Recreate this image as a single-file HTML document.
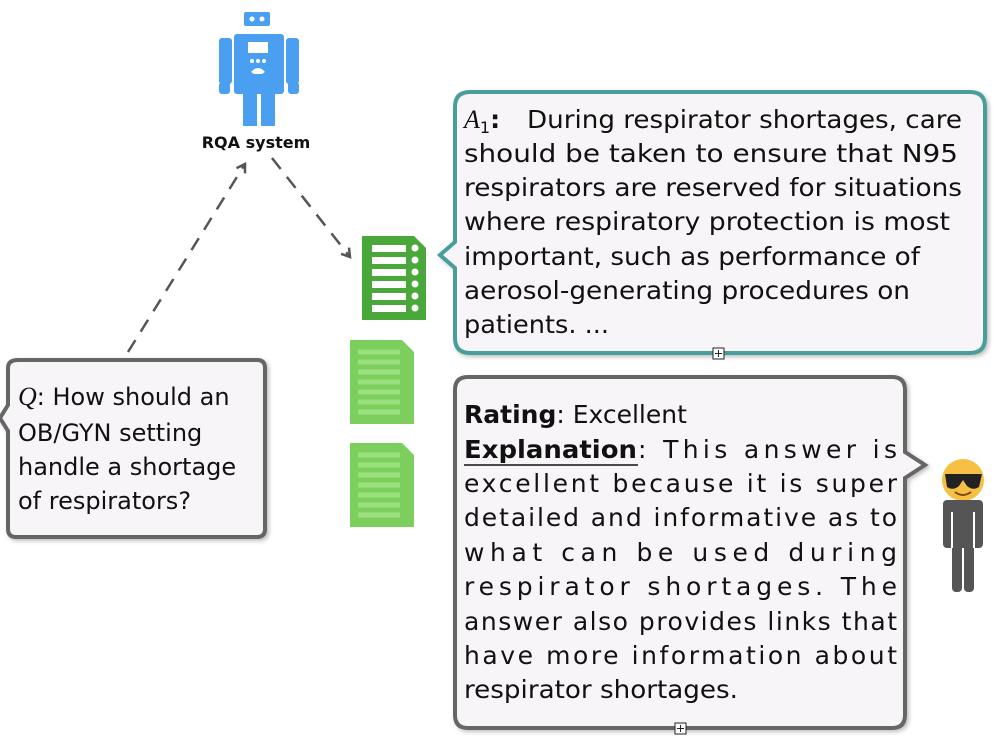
<!DOCTYPE html>
<html><head><meta charset="utf-8"><style>
html,body{margin:0;padding:0;background:#fff;width:1003px;height:752px;overflow:hidden}
svg{display:block}
text{font-family:"DejaVu Sans","Liberation Sans",sans-serif;fill:#111}
</style></head><body>
<svg width="1003" height="752" viewBox="0 0 1003 752">
<defs>
<filter id="sh" x="-5%" y="-5%" width="110%" height="110%"><feDropShadow dx="2" dy="2" stdDeviation="2" flood-color="#000" flood-opacity="0.25"/></filter>
<marker id="ah" markerWidth="12" markerHeight="12" refX="9" refY="6" orient="auto" markerUnits="userSpaceOnUse"><path d="M1,1 L9,6 L1,11" fill="none" stroke="#555" stroke-width="2.5"/></marker>
<g id="doc"><path d="M0,0 H52 L64,12 V84 H0 Z"/></g>
</defs>
<!-- robot -->
<g fill="#4a9ff0">
<rect x="244" y="12" width="26" height="14" rx="2"/>
<rect x="234" y="34" width="50" height="60" rx="3"/>
<rect x="219" y="38" width="13" height="46" rx="3"/>
<rect x="286" y="38" width="13" height="46" rx="3"/>
<rect x="219" y="82" width="11" height="12" rx="3"/>
<rect x="288" y="82" width="11" height="12" rx="3"/>
<rect x="243" y="94" width="14" height="32"/>
<rect x="261" y="94" width="14" height="32"/>
</g>
<g fill="#fff"><circle cx="252" cy="19" r="2.5"/><circle cx="262" cy="19" r="2.5"/><rect x="248" y="42" width="20" height="11"/><circle cx="252" cy="61" r="2"/><circle cx="258" cy="61" r="2"/><circle cx="264" cy="61" r="2"/><path d="M251,72 Q258,64 265,72 L262,74 H254Z"/></g>
<text x="256" y="148" font-size="16" font-weight="bold" text-anchor="middle">RQA system</text>
<!-- arrows -->
<line x1="128" y1="352" x2="245" y2="164" stroke="#555" stroke-width="2.5" stroke-dasharray="14,10" marker-end="url(#ah)"/>
<line x1="272" y1="158" x2="350" y2="257" stroke="#555" stroke-width="2.5" stroke-dasharray="14,10" marker-end="url(#ah)"/>
<!-- docs -->
<g fill="#4aa83a"><use href="#doc" x="362" y="236"/></g>
<g fill="#fff"><rect x="372" y="245" width="34" height="7"/><rect x="372" y="257" width="34" height="7"/><rect x="372" y="269" width="34" height="7"/><rect x="372" y="281" width="34" height="7"/><rect x="372" y="293" width="34" height="7"/><rect x="372" y="305" width="34" height="7"/>
<circle cx="415" cy="248" r="3.5"/><circle cx="415" cy="260" r="3.5"/><circle cx="415" cy="272" r="3.5"/><circle cx="415" cy="284" r="3.5"/><circle cx="415" cy="296" r="3.5"/><circle cx="415" cy="308" r="3.5"/></g>
<g fill="#7ccf5c"><use href="#doc" x="350" y="340"/><use href="#doc" x="350" y="443"/></g>
<g stroke="#9be07e" stroke-width="5">
<path d="M358,352 H400 M358,362 H400 M358,372 H400 M358,382 H400 M358,392 H400 M358,402 H400 M358,412 H400"/>
<path d="M358,455 H400 M358,465 H400 M358,475 H400 M358,485 H400 M358,495 H400 M358,505 H400 M358,515 H400"/>
</g>
<!-- Q box -->
<path d="M18,360 H257 Q265,360 265,368 V529 Q265,537 257,537 H16 Q8,537 8,529 V431 L0,418 L8,405 V368 Q8,360 18,360Z" fill="#f7f5f7" stroke="#666" stroke-width="4" filter="url(#sh)"/>
<g font-size="24">
<text x="18" y="405"><tspan font-family="Liberation Serif" font-style="italic" font-size="26">Q</tspan>: How should an</text>
<text x="18" y="441">OB/GYN setting</text>
<text x="18" y="475">handle a shortage</text>
<text x="18" y="509">of respirators?</text>
</g>
<!-- A1 box -->
<path d="M470,92 H970 Q985,92 985,107 V338 Q985,353 970,353 H470 Q455,353 455,338 V268 L440,255 L455,242 V107 Q455,92 470,92Z" fill="#f7f5f7" stroke="#4a9e9b" stroke-width="4" filter="url(#sh)"/>
<g font-size="25">
<text x="464" y="128"><tspan font-family="Liberation Serif" font-style="italic" font-size="26">A</tspan><tspan font-size="16" dy="5">1</tspan><tspan dy="-5" font-weight="bold">:</tspan></text>
<text x="527" y="128" textLength="435" lengthAdjust="spacingAndGlyphs">During respirator shortages, care</text>
<text x="464" y="162" textLength="494" lengthAdjust="spacingAndGlyphs">should be taken to ensure that N95</text>
<text x="464" y="196" textLength="498" lengthAdjust="spacingAndGlyphs">respirators are reserved for situations</text>
<text x="464" y="230" textLength="486" lengthAdjust="spacingAndGlyphs">where respiratory protection is most</text>
<text x="464" y="265" textLength="456" lengthAdjust="spacingAndGlyphs">important, such as performance of</text>
<text x="464" y="299" textLength="446" lengthAdjust="spacingAndGlyphs">aerosol-generating procedures on</text>
<text x="464" y="333" textLength="145" lengthAdjust="spacingAndGlyphs">patients. ...</text>
</g>
<rect x="713" y="348" width="11" height="11" fill="#fff" stroke="#222" stroke-width="1"/><path d="M718.5,350 V357 M715,353.5 H722" stroke="#222"/>
<!-- Rating box -->
<path d="M468,377 H892 Q905,377 905,390 V452 L925,465 L905,478 V715 Q905,728 892,728 H468 Q455,728 455,715 V390 Q455,377 468,377Z" fill="#f7f5f7" stroke="#666" stroke-width="4" filter="url(#sh)"/>
<g font-size="25">
<text x="464" y="423"><tspan font-weight="bold">Rating</tspan>: Excellent</text>
<text x="464" y="458" font-weight="bold" textLength="173" lengthAdjust="spacingAndGlyphs">Explanation</text>
<line x1="464" y1="465" x2="638" y2="465" stroke="#111" stroke-width="1.5"/>
<text x="638" y="458" textLength="259" lengthAdjust="spacing">: This answer is</text>
<text x="464" y="492" textLength="433" lengthAdjust="spacing">excellent because it is super</text>
<text x="464" y="526" textLength="433" lengthAdjust="spacing">detailed and informative as to</text>
<text x="464" y="561" textLength="433" lengthAdjust="spacing">what can be used during</text>
<text x="464" y="595" textLength="433" lengthAdjust="spacing">respirator shortages. The</text>
<text x="464" y="630" textLength="433" lengthAdjust="spacing">answer also provides links that</text>
<text x="464" y="664" textLength="433" lengthAdjust="spacing">have more information about</text>
<text x="464" y="698" textLength="274" lengthAdjust="spacingAndGlyphs">respirator shortages.</text>
</g>
<rect x="675" y="723" width="11" height="11" fill="#fff" stroke="#222" stroke-width="1"/><path d="M680.5,725 V732 M677,728.5 H684" stroke="#222"/>
<!-- person -->
<circle cx="963" cy="480" r="21" fill="#f5c043"/>
<path d="M945,474 H982 L979,487 Q973,491 967,486 L963,480 L959,486 Q953,491 947,487Z" fill="#222"/>
<path d="M955,492 Q963,498 971,492" stroke="#7a4a10" stroke-width="2" fill="none"/>
<g fill="#555">
<rect x="943" y="500" width="40" height="48" rx="4"/>
<rect x="952" y="540" width="10" height="52" rx="4"/>
<rect x="964" y="540" width="10" height="52" rx="4"/>
</g>
<rect x="951" y="512" width="2" height="36" fill="#fff"/><rect x="973" y="512" width="2" height="36" fill="#fff"/>
</svg>
</body></html>
